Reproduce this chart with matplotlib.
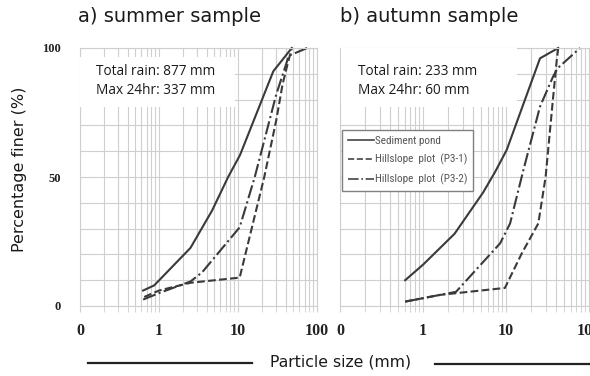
import matplotlib
matplotlib.use("Agg")
import matplotlib.pyplot as plt
from matplotlib.ticker import FixedLocator, FixedFormatter, NullFormatter
from matplotlib import font_manager as fm
from matplotlib.patches import Rectangle
from matplotlib.lines import Line2D

# ---- data ----
sum_pond_x = [0.63, 0.87, 2.5, 4.7, 7.5, 10.6, 28, 48]
sum_pond_y = [6, 8, 22.5, 37, 50, 58.5, 91, 100]
sum_p31_x = [0.65, 1.0, 2.5, 10.5, 21.5, 30.5, 36.7, 42.6, 48]
sum_p31_y = [3.5, 6, 9, 11, 50, 72, 86, 94, 100]
sum_p32_x = [0.63, 1.0, 2.5, 3.5, 10.5, 16.3, 30.5, 44, 75]
sum_p32_y = [2.5, 5, 9.5, 13, 30.5, 50, 82, 97, 100]

aut_pond_x = [0.61, 1.0, 2.4, 5.3, 7.4, 10.2, 25.7, 42.6]
aut_pond_y = [10, 16, 28, 44, 52, 60.5, 96, 100]
aut_p31_x = [0.61, 1.6, 9.7, 15.5, 24.5, 30, 37, 40.8, 42.6]
aut_p31_y = [1.7, 4.3, 7, 20.4, 32, 50, 81, 95, 100]
aut_p32_x = [0.61, 2.5, 8.5, 11.2, 16.2, 25.7, 37, 42, 78]
aut_p32_y = [1.7, 5.5, 24.3, 32, 52.7, 77.3, 89, 92.2, 100]

x_ticks = [0.1, 1, 10, 100]
x_labels = ["0", "1", "10", "100"]
y_ticks = [0, 50, 100]
y_labels = ["0", "50", "100"]
series_names = ["Sediment pond", "Hillslope  plot  (P3-1)", "Hillslope  plot  (P3-2)"]
titles = ["a) summer sample", "b) autumn sample"]
rain_texts = ["Total rain: 877 mm\nMax 24hr: 337 mm", "Total rain: 233 mm\nMax 24hr: 60 mm"]


def has_font(name):
    try:
        fm.findfont(fm.FontProperties(family=name), fallback_to_default=False)
        return True
    except Exception:
        return False


def find_narrow():
    prefs = ["Liberation Sans Narrow", "DejaVu Sans Condensed", "Roboto Condensed",
             "Open Sans Condensed", "Noto Sans Condensed"]
    fl = fm.fontManager.ttflist
    for p in prefs:
        for f in fl:
            if f.name == p and f.weight in (400, "normal", "regular") and f.style == "normal":
                return fm.FontProperties(fname=f.fname)
    for f in fl:
        fn = f.fname.lower()
        if ("condensed" in fn or "narrow" in fn) and "bold" not in fn and "italic" not in fn \
                and "oblique" not in fn and "mono" not in fn and "serif" not in fn:
            return fm.FontProperties(fname=f.fname)
    for f in fl:
        if f.stretch in ("condensed", "semi-condensed", "extra-condensed") and f.style == "normal" \
                and f.weight in (400, "normal", "regular"):
            return fm.FontProperties(fname=f.fname)
    return None

narrow_fp = find_narrow()
serif = "Liberation Serif" if has_font("Liberation Serif") else "DejaVu Serif"
boxfont = "Open Sans" if has_font("Open Sans") else "DejaVu Sans"

W, H = 590, 376
fig = plt.figure(figsize=(W / 100, H / 100), dpi=100)
fig.patch.set_facecolor("white")


def px_axes(x0, x1, y0, y1):
    return fig.add_axes([x0 / W, 1 - y1 / H, (x1 - x0) / W, (y1 - y0) / H])

ax1 = px_axes(80, 317, 48, 306)
ax2 = px_axes(340, 589, 48, 306)

grid_c = "#cfcfcf"
line_c = "#3a3a3a"

for ax in (ax1, ax2):
    ax.set_xscale("log")
    ax.set_xlim(0.1, 100)
    ax.set_ylim(0, 100)
    ax.xaxis.set_major_locator(FixedLocator(x_ticks))
    ax.xaxis.set_major_formatter(FixedFormatter(x_labels))
    minors = [m * 10.0 ** e for e in (-1, 0, 1) for m in range(2, 10)]
    ax.xaxis.set_minor_locator(FixedLocator(minors))
    ax.xaxis.set_minor_formatter(NullFormatter())
    ax.yaxis.set_major_locator(FixedLocator(list(range(0, 101, 10))))
    ax.grid(True, which="both", color=grid_c, lw=0.8)
    ax.set_axisbelow(True)
    for s in ax.spines.values():
        s.set_color(grid_c)
        s.set_linewidth(0.8)
    ax.tick_params(axis="x", which="both", length=4, color=grid_c, pad=8)
    ax.tick_params(axis="y", which="both", length=0, pad=14)
    for lab in ax.get_xticklabels():
        lab.set_fontfamily(serif)
        lab.set_fontweight("bold")
        lab.set_fontsize(11.5)
        lab.set_color("#222222")

ax1.set_yticks(list(range(0, 101, 10)))
ax1.set_yticklabels(["0", "", "", "", "", "50", "", "", "", "", "100"],
                    fontfamily=serif, fontweight="bold", fontsize=9, color="#222222")
ax2.set_yticklabels([])

kw = dict(color=line_c, lw=1.5, clip_on=False)
l1, = ax1.plot(sum_pond_x, sum_pond_y, ls="-", **kw)
l2, = ax1.plot(sum_p31_x, sum_p31_y, ls="--", **kw)
l3, = ax1.plot(sum_p32_x, sum_p32_y, ls="-.", **kw)
r1, = ax2.plot(aut_pond_x, aut_pond_y, ls="-", **kw)
r2, = ax2.plot(aut_p31_x, aut_p31_y, ls="--", **kw)
r3, = ax2.plot(aut_p32_x, aut_p32_y, ls="-.", **kw)

# rain text boxes (white patches hiding the grid)
boxes = [(80, 235, 57, 107, 96), (341, 517, 48, 107, 358)]
for (bx0, bx1, by0, by1, tx), t in zip(boxes, rain_texts):
    fig.patches.append(Rectangle((bx0 / W, 1 - by1 / H), (bx1 - bx0) / W, (by1 - by0) / H,
                                 transform=fig.transFigure, facecolor="white",
                                 edgecolor="none", zorder=5))
    fig.text(tx / W, 1 - 81 / H, t, fontfamily=boxfont, fontsize=9.8, va="center",
             ha="left", linespacing=1.45, color="#1a1a1a", zorder=6)

# legend
if narrow_fp is not None:
    narrow_fp.set_size(8)
    leg_prop = narrow_fp
else:
    leg_prop = {"family": "DejaVu Sans", "size": 6.3}
leg = ax2.legend([r1, r2, r3], series_names, loc="upper left",
                 bbox_to_anchor=((342 - 340) / 249, 1 - (130 - 48) / 258),
                 prop=leg_prop, frameon=True, fancybox=False,
                 handlelength=2.4, handletextpad=0.1, labelspacing=0.75,
                 borderpad=0.5, borderaxespad=0)
leg.get_frame().set_edgecolor("#808080")
leg.get_frame().set_linewidth(1.0)
leg.get_frame().set_facecolor("white")
leg.get_frame().set_alpha(1)
for t in leg.get_texts():
    t.set_color("#555555")
for h in leg.get_lines():
    h.set_linewidth(1.2)
    h.set_color("#444444")

# titles
fig.text(170 / W, 1 - 17 / H, titles[0], fontsize=14, ha="center", va="center", color="#1a1a1a")
fig.text(429 / W, 1 - 17 / H, titles[1], fontsize=14, ha="center", va="center", color="#1a1a1a")

# axis labels
fig.text(20 / W, 1 - 169 / H, "Percentage finer (%)", fontsize=11.5, rotation=90,
         ha="center", va="center", color="#1a1a1a")
fig.text(341 / W, 1 - 362 / H, "Particle size (mm)", fontsize=11.3, ha="center",
         va="center", color="#1a1a1a")
fig.lines.append(Line2D([88 / W, 252 / W], [1 - 363 / H, 1 - 363 / H],
                        transform=fig.transFigure, color="#222222", lw=1.6))
fig.lines.append(Line2D([435 / W, 590 / W], [1 - 364 / H, 1 - 364 / H],
                        transform=fig.transFigure, color="#222222", lw=1.6))

fig.savefig("out.png", dpi=100)
